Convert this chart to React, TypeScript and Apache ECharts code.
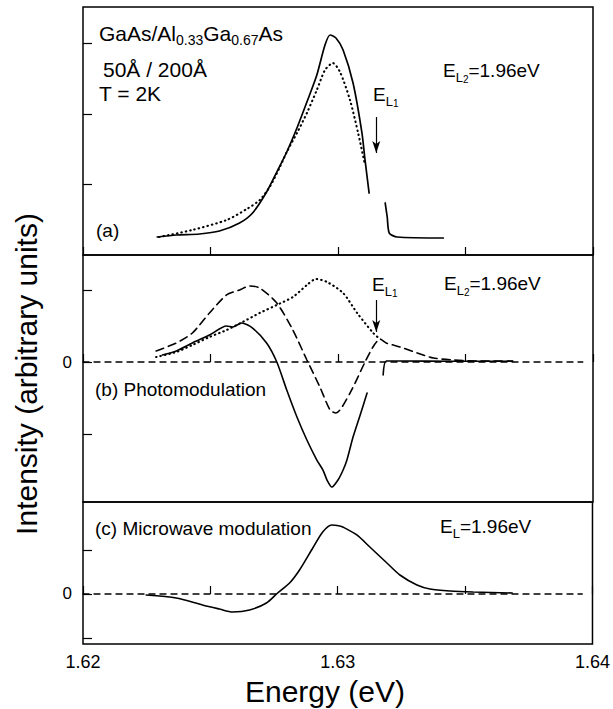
import React, { useEffect, useRef } from "react";
import * as echarts from "echarts";

// ---------- data (energy in eV, intensity in arbitrary units) ----------
// Panel (a): photoluminescence
const aSolidE = [1.62291, 1.62366, 1.62457, 1.62535, 1.62614, 1.62665, 1.6272, 1.6276, 1.62799, 1.62839, 1.62878, 1.62917, 1.62949, 1.62969, 1.62992, 1.6302, 1.63059, 1.63094, 1.63106, 1.63122, 1.6315, 1.63185, 1.63193, 1.63201, 1.63232, 1.63413];
const aSolidI = [0.255, 0.284, 0.298, 0.34, 0.454, 0.596, 0.894, 1.177, 1.461, 1.801, 2.17, 2.553, 2.979, 3.121, 3.078, 2.908, 2.44, 1.73, 1.348, 0.879, null, 0.738, 0.539, 0.312, 0.255, 0.241];
const aDotE = [1.62299, 1.62429, 1.62563, 1.62642, 1.62693, 1.62732, 1.62772, 1.62799, 1.62839, 1.62878, 1.62917, 1.62949, 1.6298, 1.63008, 1.63047, 1.63079, 1.63106];
const aDotI = [0.255, 0.355, 0.496, 0.652, 0.78, 0.965, 1.248, 1.461, 1.73, 2.014, 2.34, 2.624, 2.723, 2.596, 2.199, 1.73, 1.277];

// Panel (b): photomodulation
const bSolidE = [1.62311, 1.62366, 1.62429, 1.62496, 1.62563, 1.62587, 1.62622, 1.62665, 1.6272, 1.6276, 1.62799, 1.62839, 1.62878, 1.62917, 1.62941, 1.62957, 1.62976, 1.63, 1.6302, 1.63035, 1.63059, 1.63087, 1.63114, 1.6315, 1.63177, 1.63189, 1.63244, 1.63441, 1.63685];
const bSolidI = [0.097, 0.153, 0.264, 0.375, 0.5, 0.486, 0.542, 0.472, 0.264, 0, -0.389, -0.764, -1.083, -1.361, -1.5, -1.639, -1.736, -1.639, -1.5, -1.361, -1.042, -0.736, -0.431, null, -0.18, 0.014, 0.014, 0.01, 0.01];
const bDashE = [1.62287, 1.62366, 1.62429, 1.62496, 1.62563, 1.62614, 1.62654, 1.62693, 1.6276, 1.62823, 1.62878, 1.62929, 1.62969, 1.62992, 1.63047, 1.63106, 1.63142, 1.63165, 1.63189, 1.63244, 1.63311, 1.63374, 1.63453, 1.63559, 1.63685];
const bDashI = [0.153, 0.264, 0.403, 0.681, 0.931, 1.0, 1.056, 1.028, 0.819, 0.444, 0.028, -0.347, -0.667, -0.708, -0.431, 0, 0.236, 0.319, 0.264, 0.208, 0.125, 0.056, 0.028, 0.014, 0.014];
const bDotE = [1.62287, 1.62366, 1.62429, 1.62496, 1.62563, 1.62626, 1.62693, 1.6276, 1.62823, 1.62878, 1.62913, 1.62957, 1.6302, 1.63075, 1.63138, 1.63165];
const bDotI = [0.069, 0.139, 0.236, 0.347, 0.444, 0.556, 0.681, 0.792, 0.903, 1.069, 1.153, 1.111, 0.958, 0.681, 0.403, 0.319];

// Panel (c): microwave modulation
const cSolidE = [1.62248, 1.62366, 1.62469, 1.62535, 1.62587, 1.62654, 1.6272, 1.62764, 1.62811, 1.6285, 1.62902, 1.62941, 1.62976, 1.63008, 1.6302, 1.63075, 1.63126, 1.63193, 1.63244, 1.63311, 1.63362, 1.63441, 1.63531, 1.63685];
const cSolidI = [-0.023, -0.091, -0.25, -0.341, -0.409, -0.364, -0.205, 0.023, 0.25, 0.545, 1.045, 1.409, 1.568, 1.545, 1.523, 1.341, 1.068, 0.705, 0.432, 0.205, 0.114, 0.068, 0.045, 0.023];

// zero reference lines
const zeroE = [1.62, 1.6396];
const zeroI = [0, 0];

// axes
const X_MIN = 1.62;
const X_MAX = 1.64;
const X_TICK = 0.005;
const A_RANGE = [0, 3.518];
const B_RANGE = [-1.944, 1.486];
const C_RANGE = [-1.136, 2.09];
const A_TICKS = [1, 2, 3];
const BC_TICKS = [-1, 0, 1];
const BC_LABELS = [0];

// laser line markers E_L1: [energy, arrowTop, arrowBottom]
const EL1_E = 1.6315;
const EL1_A = [1.957, 1.447];
const EL1_B = [0.861, 0.417];

const FONT = '"Liberation Sans", Arial, Helvetica, sans-serif';
const INK = "#000";

function zip(xs: number[], ys: (number | null)[]) {
  return xs.map((x, i) => [x, ys[i] === null ? null : ys[i]]);
}

export default function App() {
  const ref = useRef<HTMLDivElement>(null);

  useEffect(() => {
    if (!ref.current) return;
    const chart = echarts.init(ref.current, null, { renderer: "svg" });

    const grids = [
      { left: 83, top: 7, width: 510, height: 248 },
      { left: 83, top: 255, width: 510, height: 247 },
      { left: 83, top: 502, width: 510, height: 142 },
    ].map((g) => ({ ...g, show: true, borderColor: INK, borderWidth: 1.5, backgroundColor: "transparent" }));

    const xAxes = [0, 1, 2].map((i) => ({
      type: "value",
      gridIndex: i,
      min: X_MIN,
      max: X_MAX,
      interval: X_TICK,
      axisLine: { show: false },
      axisTick: { show: true, inside: true, length: 8, lineStyle: { color: INK, width: 1.2 } },
      splitLine: { show: false },
      axisLabel: {
        show: i === 2,
        margin: 9,
        fontSize: 18,
        fontFamily: FONT,
        color: INK,
        formatter: (v: number) => (Math.round(v * 1000) % 10 === 0 ? v.toFixed(2) : ""),
      },
    }));

    const yCommon = {
      type: "value",
      axisLine: { show: false },
      splitLine: { show: false },
    };
    const yAxes = [
      {
        ...yCommon,
        gridIndex: 0,
        min: A_RANGE[0],
        max: A_RANGE[1],
        axisTick: { show: true, inside: true, length: 9, customValues: A_TICKS, lineStyle: { color: INK, width: 1.2 } },
        axisLabel: { show: false },
      },
      {
        ...yCommon,
        gridIndex: 1,
        min: B_RANGE[0],
        max: B_RANGE[1],
        axisTick: { show: true, inside: true, length: 9, customValues: BC_TICKS, lineStyle: { color: INK, width: 1.2 } },
        axisLabel: { show: true, customValues: BC_LABELS, fontSize: 17, fontFamily: FONT, color: INK, margin: 11 },
      },
      {
        ...yCommon,
        gridIndex: 2,
        min: C_RANGE[0],
        max: C_RANGE[1],
        axisTick: { show: true, inside: true, length: 9, customValues: BC_TICKS, lineStyle: { color: INK, width: 1.2 } },
        axisLabel: { show: true, customValues: BC_LABELS, fontSize: 17, fontFamily: FONT, color: INK, margin: 11 },
      },
    ];

    const line = (idx: number, data: any[], type: any, width = 1.6, extra: any = {}) => ({
      type: "line",
      xAxisIndex: idx,
      yAxisIndex: idx,
      data,
      showSymbol: false,
      symbol: "none",
      smooth: 0.25,
      connectNulls: false,
      silent: true,
      lineStyle: { color: INK, width, type, cap: "round" },
      ...extra,
    });

    const arrow = (coords: number[]) => ({
      silent: true,
      symbol: ["none", "arrow"],
      symbolSize: [6, 12],
      label: { show: false },
      lineStyle: { color: INK, width: 1.2, type: "solid" },
      data: [[{ coord: [EL1_E, coords[0]] }, { coord: [EL1_E, coords[1]] }]],
    });

    const series = [
      line(0, zip(aSolidE, aSolidI), "solid", 1.7, { markLine: arrow(EL1_A) }),
      line(0, zip(aDotE, aDotI), [0.5, 4], 2.1),
      line(1, zip(zeroE, zeroI), [6, 5], 1.3, { smooth: false }),
      line(1, zip(bSolidE, bSolidI), "solid", 1.6, { markLine: arrow(EL1_B) }),
      line(1, zip(bDashE, bDashI), [8, 5], 1.6),
      line(1, zip(bDotE, bDotI), [0.5, 4], 2.1),
      line(2, zip(zeroE, zeroI), [6, 5], 1.3, { smooth: false }),
      line(2, zip(cSolidE, cSolidI), "solid", 1.6),
    ];

    const makeRich = (sub: number, ss: number) => ({
      sub: { fontSize: sub, lineHeight: 12, verticalAlign: "bottom", fontFamily: FONT },
      ss: { fontSize: ss, lineHeight: 6, verticalAlign: "bottom", fontFamily: FONT },
    });
    const txt = (text: string, x: number, y: number, size = 19, sub = 13, ss = 10) => ({
      type: "text",
      x,
      y,
      silent: true,
      style: {
        text,
        rich: makeRich(sub, ss),
        fontSize: size,
        lineHeight: 28,
        fontFamily: FONT,
        fill: INK,
        textAlign: "left",
        textVerticalAlign: "middle",
      },
    });

    const graphic = [
      txt("GaAs/Al{sub|0.33}Ga{sub|0.67}As", 99, 33, 21, 14),
      txt("50Å / 200Å", 103, 69, 21),
      txt("T = 2K", 99, 93, 21),
      txt("(a)", 96, 230),
      txt("E{sub|L}{ss|2}=1.96eV", 443, 70),
      txt("E{sub|L}{ss|1}", 373, 94),
      txt("E{sub|L}{ss|1}", 372, 284),
      txt("E{sub|L}{ss|2}=1.96eV", 444, 283),
      txt("(b) Photomodulation", 95, 389),
      txt("(c) Microwave modulation", 95, 528),
      txt("E{sub|L}=1.96eV", 440, 526),
      {
        type: "text",
        x: 26,
        y: 374,
        rotation: Math.PI / 2,
        silent: true,
        style: { text: "Intensity (arbitrary units)", fontSize: 30, fontFamily: FONT, fill: INK, textAlign: "center", textVerticalAlign: "middle" },
      },
      {
        type: "text",
        x: 325,
        y: 691,
        silent: true,
        style: { text: "Energy (eV)", fontSize: 30, fontFamily: FONT, fill: INK, textAlign: "center", textVerticalAlign: "middle" },
      },
    ];

    chart.setOption({
      animation: false,
      backgroundColor: "#fff",
      grid: grids,
      xAxis: xAxes,
      yAxis: yAxes,
      series,
      graphic,
    });

    return () => chart.dispose();
  }, []);

  return <div ref={ref} style={{ width: 613, height: 709, position: "absolute", left: 0, top: 0 }} />;
}
